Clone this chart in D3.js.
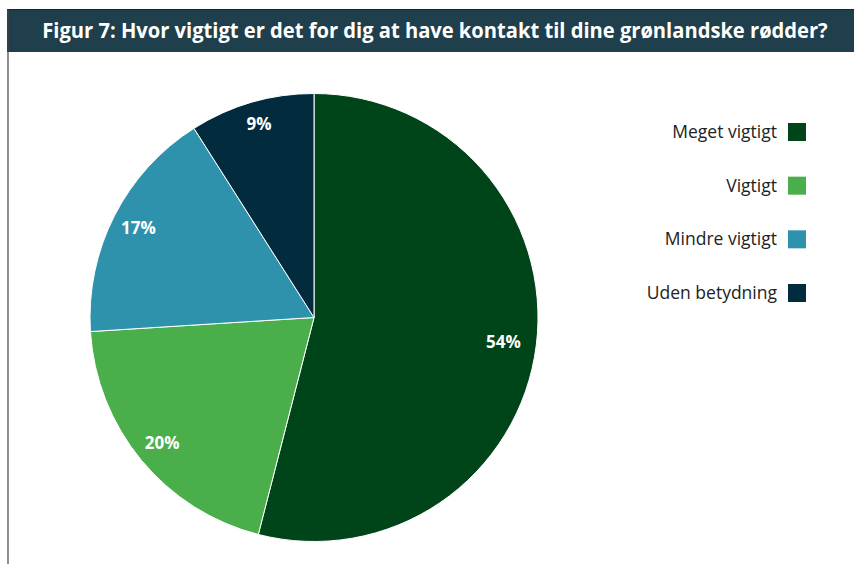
<!DOCTYPE html>
<html><head><meta charset="utf-8">
<script src="https://cdn.jsdelivr.net/npm/d3@7"></script>
<style>body{margin:0;background:#fff}svg{display:block}</style>
</head><body>
<script>
const categories = ["Meget vigtigt", "Vigtigt", "Mindre vigtigt", "Uden betydning"];
const values = [54, 20, 17, 9];
const labels = ["54%", "20%", "17%", "9%"];
const colors = ["#00441a", "#4aae4a", "#2e92ad", "#022c3d"];
const title = "Figur 7:  Hvor vigtigt er det for dig at have kontakt til dine grønlandske rødder?";

const W = 854, H = 564;
const svg = d3.select("body").append("svg").attr("width", W).attr("height", H);

// frame
svg.append("rect").attr("x", 7).attr("y", 9).attr("width", W - 7).attr("height", 43).attr("fill", "#1f3f4c");
svg.append("line").attr("x1", 7).attr("x2", W).attr("y1", 9.5).attr("y2", 9.5).attr("stroke", "#222").attr("stroke-width", 1);
svg.append("line").attr("x1", 8).attr("x2", 8).attr("y1", 9).attr("y2", H).attr("stroke", "#444").attr("stroke-width", 1.2);

const tg = svg.append("g");
const tt = tg.append("text").attr("x", 0).attr("y", 0).attr("text-anchor", "middle")
  .attr("font-family", "'Open Sans', sans-serif").attr("font-weight", "bold").attr("font-size", 21)
  .attr("fill", "#fff").text(title);
const natural = tt.node().getComputedTextLength();
const sx = Math.min(1, 786 / natural);
tg.attr("transform", `translate(435,38) scale(${sx},1)`);

// pie
const cx = 314, cy = 317.5, R = 224;
const pie = d3.pie().sort(null).value(d => d)(values);
const arc = d3.arc().innerRadius(0).outerRadius(R);
const g = svg.append("g").attr("transform", `translate(${cx},${cy})`);
g.selectAll("path").data(pie).join("path").attr("d", arc)
  .attr("fill", (d, i) => colors[i]).attr("stroke", "#fff").attr("stroke-width", 1);

const labelArc = d3.arc().innerRadius(197).outerRadius(197);
g.selectAll("text").data(pie).join("text")
  .attr("transform", (d, i) => { const c = labelArc.centroid(d); if (i === 0) c[0] -= 6; if (i === 3) c[1] -= 4; return `translate(${c[0]},${c[1]})`; })
  .attr("text-anchor", "middle").attr("dy", "0.35em")
  .attr("font-family", "'Open Sans', sans-serif").attr("font-weight", "bold").attr("font-size", 17)
  .attr("fill", "#fff").text((d, i) => labels[i]);

// legend
const ly = d3.scalePoint().domain(categories).range([132, 293]);
const lg = svg.append("g");
categories.forEach((c, i) => {
  lg.append("rect").attr("x", 788).attr("y", ly(c) - 9).attr("width", 18).attr("height", 18).attr("fill", colors[i]);
  lg.append("text").attr("x", 777).attr("y", ly(c)).attr("dy", "0.35em").attr("text-anchor", "end")
    .attr("font-family", "'Open Sans', sans-serif").attr("font-size", 17.5).attr("fill", "#222").text(c);
});
</script>
</body></html>
